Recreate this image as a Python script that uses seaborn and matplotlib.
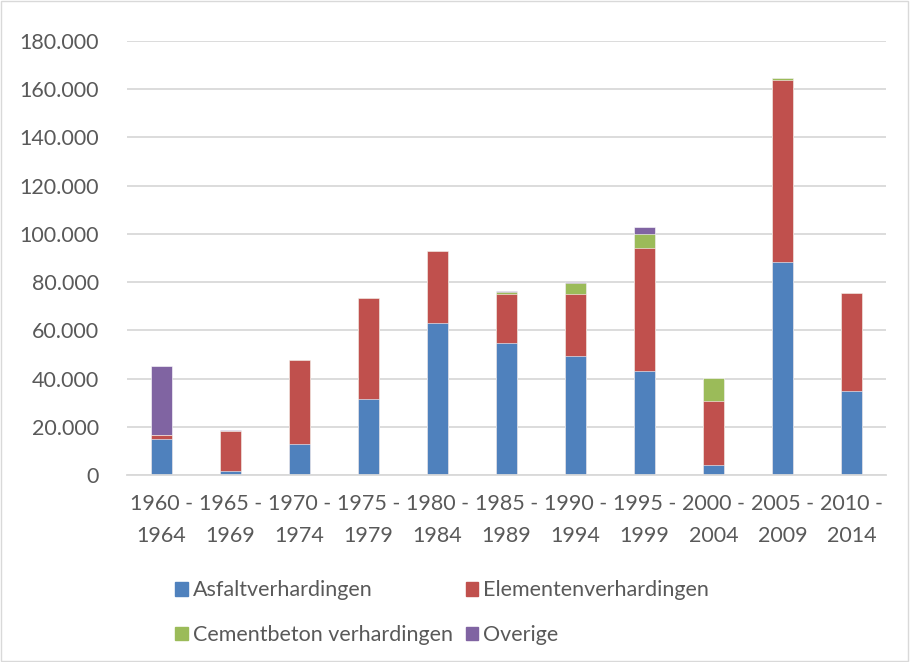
import matplotlib
matplotlib.use("Agg")
import matplotlib.pyplot as plt
from matplotlib.patches import Patch, Rectangle
from matplotlib.ticker import FuncFormatter
import seaborn as sns
import numpy as np

# data
periodes = ["1960 -\n1964", "1965 -\n1969", "1970 -\n1974", "1975 -\n1979", "1980 -\n1984",
            "1985 -\n1989", "1990 -\n1994", "1995 -\n1999", "2000 -\n2004", "2005 -\n2009",
            "2010 -\n2014"]
asfalt = [15000, 1700, 12700, 31700, 63200, 54700, 49500, 43300, 4300, 88400, 35000]
elementen = [1700, 16700, 34800, 41900, 29800, 20200, 25700, 51000, 26500, 75400, 40400]
cementbeton = [0, 0, 0, 0, 0, 1200, 4300, 5800, 9400, 900, 0]
overige = [28700, 400, 0, 0, 0, 400, 500, 2600, 0, 0, 0]

series_names = ["Asfaltverhardingen", "Elementenverhardingen", "Cementbeton verhardingen", "Overige"]
kleuren = ["#4F81BD", "#C0504D", "#9BBB59", "#8064A2"]

sns.set_theme(style="white")
plt.rcParams['font.family'] = ['Lato', 'DejaVu Sans']
tekst_kleur = "#595959"
fs = 15.5

fig = plt.figure(figsize=(9.1, 6.62), dpi=100)
ax = fig.add_axes([127 / 910, 1 - 475 / 662, (886 - 127) / 910, (475 - 41) / 662])

# gestapelde balken: cumulatieve hoogtes, grootste eerst tekenen
lagen = [asfalt, elementen, cementbeton, overige]
cum = np.cumsum(np.array(lagen, dtype=float), axis=0)
for i in range(len(lagen) - 1, -1, -1):
    sns.barplot(x=periodes, y=cum[i], color=kleuren[i], width=0.31, ax=ax,
                saturation=1, edgecolor="white", linewidth=0.4)

ax.set_ylim(0, 180000)
ax.set_yticks(np.arange(0, 180001, 20000))
ax.yaxis.set_major_formatter(FuncFormatter(lambda v, p: f"{int(v):,}".replace(",", ".")))
ax.grid(axis="y", color="#D9D9D9", linewidth=1.3)
ax.set_axisbelow(True)
for s in ["top", "right", "left"]:
    ax.spines[s].set_visible(False)
ax.spines["bottom"].set_color("#D9D9D9")
ax.spines["bottom"].set_linewidth(1.3)
ax.tick_params(axis="both", length=0, labelsize=fs, colors=tekst_kleur)
ax.tick_params(axis="y", pad=20)
ax.tick_params(axis="x", pad=14)
for lbl in ax.get_xticklabels():
    lbl.set_linespacing(1.75)
ax.set_xlabel("")
ax.set_ylabel("")

# legenda in rijen: A, E / C, O
handles = [Patch(color=kleuren[k]) for k in [0, 2, 1, 3]]
labels = [series_names[k] for k in [0, 2, 1, 3]]
fig.legend(handles, labels, loc="upper left", bbox_to_anchor=(156 / 910, 1 - 561 / 662),
           ncol=2, frameon=False, fontsize=fs, handlelength=0.6, handleheight=0.6,
           handletextpad=0.2, columnspacing=0.6, labelspacing=1.15, labelcolor=tekst_kleur)

# lichtgrijze rand rond de grafiek
fig.patches.append(Rectangle((0.001, 0.001), 0.997, 0.997, transform=fig.transFigure,
                             fill=False, edgecolor="#D9D9D9", linewidth=1))

fig.savefig("out.png", dpi=100)
